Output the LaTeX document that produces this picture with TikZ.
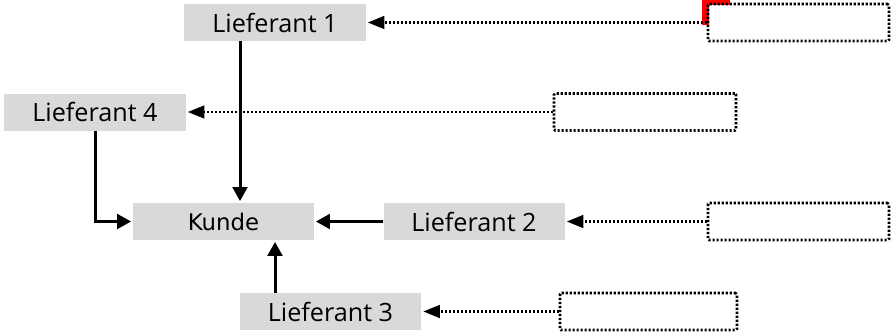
\documentclass[tikz,border=0pt]{standalone}
\usepackage{fontspec}
\setmainfont{Open Sans}
\newfontfamily\kundefont{DejaVu Sans}
\usepackage{tikz}
\usetikzlibrary{arrows.meta}
\tikzset{
	super thick/.style={line width=.09cm}
}
\tikzstyle{shaded}=[fill=gray!30, inner sep=0pt, minimum width=5.43cm, minimum height=1.11cm, font=\fontsize{21.5}{25}\selectfont]
\tikzstyle{dotbox}=[draw, line width=.08cm, dash pattern=on .065cm off .055cm, rounded corners=1pt, minimum height=1.11cm]
\tikzstyle{feed}=[line width=.08cm, dash pattern=on .065cm off .055cm, -{Triangle[length=.5cm,width=.38cm]}, shorten >=.06cm]
\tikzstyle{flow}=[super thick, -{Triangle[length=.42cm,width=.44cm]}, shorten >=.05cm]

\begin{document}
\begin{tikzpicture}[x=.03cm, y=-.03cm]
	\useasboundingbox (0,0) rectangle (891,333);
	\node[shaded] (lief1) at (275,22.5) {Lieferant 1};
	\node[shaded] (lief4) at (95,112) {Lieferant 4};
	\node[shaded, font=\kundefont\fontsize{19.5}{23}\selectfont] (kunde) at (223.5,221.5) {Kunde};
	\node[shaded] (lief2) at (474,221.5) {Lieferant 2};
	\node[shaded] (lief3) at (330.5,311.5) {Lieferant 3};
	\draw[red, line width=.21cm] (730,1.5) -- (705.5,1.5) -- (705.5,25);
	\node[dotbox, minimum width=5.43cm] (note1) at (798.5,22.5) {};
	\node[dotbox, minimum width=5.46cm] (note4) at (645,112) {};
	\node[dotbox, minimum width=5.43cm] (note2) at (798.5,221.5) {};
	\node[dotbox, minimum width=5.31cm] (note3) at (648.5,311.5) {};
	\draw[feed] (note1) -- (lief1);
	\draw[feed] (note4) -- (lief4);
	\draw[feed] (note2) -- (lief2);
	\draw[feed] (note3) -- (lief3);
	\coordinate (drop1) at ([xshift=-1.05cm]lief1.south);
	\coordinate (rise3) at ([xshift=-1.665cm]lief3.north);
	\draw[flow] (drop1) -- (drop1 |- kunde.north);
	\draw[flow] (lief4.south) |- (kunde.west);
	\draw[flow] (lief2.west) -- (kunde.east);
	\draw[flow] (rise3) -- (rise3 |- kunde.south);
\end{tikzpicture}
\end{document}
